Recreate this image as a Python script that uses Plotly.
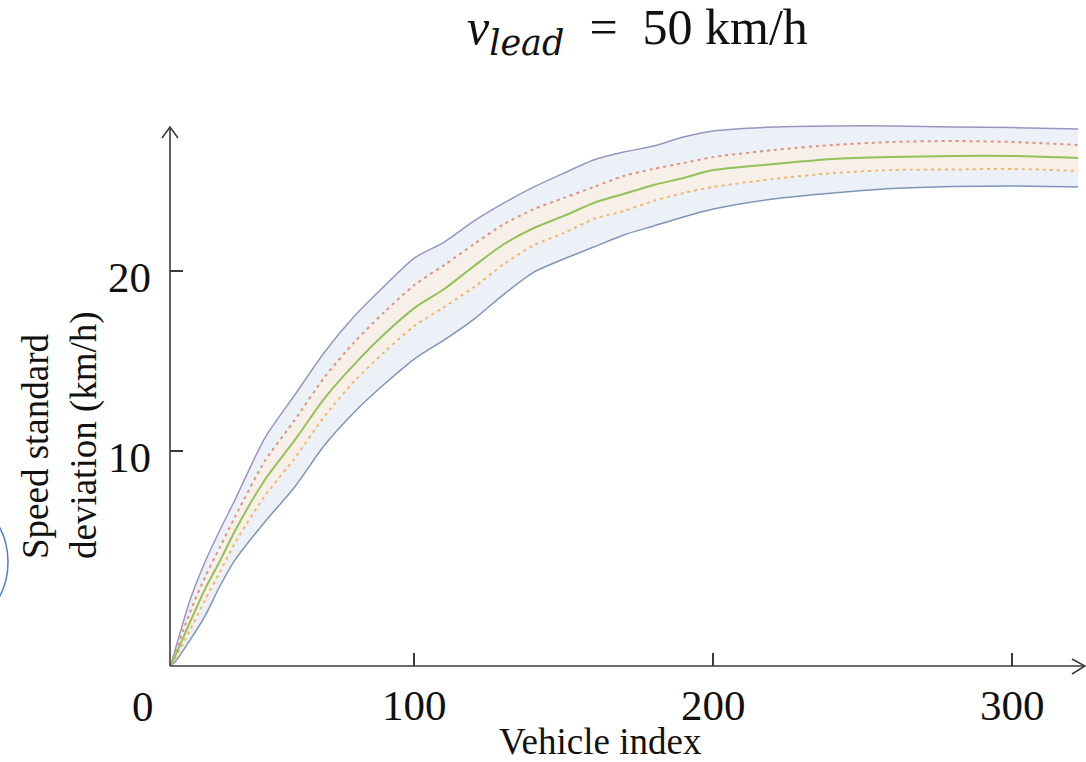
import plotly.graph_objects as go

# Vehicle index samples along the platoon
vehicle_idx = [18.6, 20, 25, 30, 35, 40, 50, 60, 70, 80, 90, 100, 110, 120, 130,
               140, 150, 160, 170, 180, 190, 200, 220, 240, 260, 280, 300, 322]

# Speed standard deviation (km/h): outer envelope, inner envelope and mean
outer_upper = [-1.89, -1.06, 1.72, 3.83, 5.61, 7.28, 10.72, 13.11, 15.5, 17.5, 19.17,
               20.72, 21.61, 22.78, 23.78, 24.67, 25.44, 26.17, 26.61, 26.94, 27.44,
               27.78, 28.0, 28.06, 28.06, 28.0, 27.97, 27.89]
inner_upper = [-1.89, -1.22, 1.06, 3.0, 4.67, 6.33, 9.44, 11.72, 14.11, 16.06, 17.72,
               19.22, 20.33, 21.5, 22.61, 23.44, 24.06, 24.67, 25.28, 25.67, 26.0,
               26.33, 26.72, 27.0, 27.17, 27.22, 27.17, 27.0]
mean_std = [-1.89, -1.39, 0.5, 2.33, 3.89, 5.56, 8.39, 10.6, 12.94, 14.83, 16.5,
            17.94, 19.0, 20.28, 21.5, 22.39, 23.06, 23.78, 24.28, 24.78, 25.17,
            25.61, 25.94, 26.22, 26.33, 26.39, 26.39, 26.28]
inner_lower = [-1.89, -1.53, 0.06, 1.72, 3.28, 4.89, 7.5, 9.6, 11.94, 13.89, 15.5,
               16.94, 18.0, 19.11, 20.39, 21.44, 22.11, 22.89, 23.33, 23.89, 24.33,
               24.67, 25.11, 25.44, 25.61, 25.64, 25.67, 25.56]
outer_lower = [-1.89, -1.72, -0.5, 0.83, 2.5, 3.94, 6.06, 8.0, 10.33, 12.17, 13.72,
               15.11, 16.17, 17.33, 18.72, 19.94, 20.67, 21.33, 22.0, 22.5, 23.0,
               23.44, 24.0, 24.33, 24.58, 24.69, 24.72, 24.67]

x_ticks = [100, 200, 300]
y_ticks = [10, 20]

W, H = 1086, 762
ML, MR, MT, MB = 170, 0, 115, 96
PW, PH = W - ML - MR, H - MT - MB

SERIF = "Liberation Serif"
AXIS_COLOR = "#3a3a3a"


def px(x):
    """Horizontal page pixel -> paper coordinate."""
    return (x - ML) / PW


def py(y):
    """Vertical page pixel -> paper coordinate."""
    return (H - MB - y) / PH


def band_line(y, color, width, dash=None, fill=None, fillcolor=None):
    return go.Scatter(x=vehicle_idx, y=y, mode="lines",
                      line=dict(color=color, width=width, dash=dash,
                                shape="spline", smoothing=0.7),
                      fill=fill, fillcolor=fillcolor, hoverinfo="skip")


fig = go.Figure()

# Outer envelope band
fig.add_trace(band_line(outer_lower, "#7f95b8", 1.5))
fig.add_trace(band_line(outer_upper, "#9a94c0", 1.5, fill="tonexty", fillcolor="#ecf1f8"))
# Inner envelope band (dotted edges)
fig.add_trace(band_line(inner_lower, "#f2b66a", 2, dash="3px,4px"))
fig.add_trace(band_line(inner_upper, "#e0907f", 2, dash="3px,4px",
                        fill="tonexty", fillcolor="#f7f0e8"))
# Mean
fig.add_trace(band_line(mean_std, "#93c15a", 2))

# Axis lines with open arrowheads
shapes = [
    dict(type="line", xref="paper", yref="paper", x0=px(170), y0=py(666),
         x1=px(1085), y1=py(666), line=dict(color=AXIS_COLOR, width=1.6)),
    dict(type="line", xref="paper", yref="paper", x0=px(170), y0=py(666),
         x1=px(170), y1=py(127), line=dict(color=AXIS_COLOR, width=1.6)),
    dict(type="path", xref="paper", yref="paper",
         path=f"M {px(1072)} {py(659)} L {px(1085)} {py(666)} L {px(1072)} {py(674)}",
         line=dict(color=AXIS_COLOR, width=1.6)),
    dict(type="path", xref="paper", yref="paper",
         path=f"M {px(162)} {py(138)} L {px(170)} {py(127)} L {px(178)} {py(138)}",
         line=dict(color=AXIS_COLOR, width=1.6)),
    # partial circle at the left edge
    dict(type="circle", xref="paper", yref="paper",
         x0=px(-140), x1=px(8), y0=py(636), y1=py(488),
         line=dict(color="#4f81c7", width=1.5)),
]

title_text = ("<i>v</i><sub><span style=\"font-family:'DejaVu Serif';font-size:35px\">"
              "<i>lead</i></span></sub>&nbsp;&nbsp;=&nbsp;&nbsp;50 km/h")

annotations = [
    dict(text=title_text, xref="paper", yref="paper",
         x=px(637), y=py(31), showarrow=False, xanchor="center", yanchor="middle",
         font=dict(family=SERIF, size=50, color="#111")),
    dict(text="0", xref="paper", yref="paper", x=px(143), y=py(706),
         showarrow=False, xanchor="center", yanchor="middle",
         font=dict(family=SERIF, size=43, color="#111")),
    dict(text="Vehicle index", xref="paper", yref="paper", x=px(600), y=py(741),
         showarrow=False, xanchor="center", yanchor="middle",
         font=dict(family=SERIF, size=37, color="#111")),
    dict(text="Speed standard<br>deviation (km/h)", xref="paper", yref="paper",
         x=px(60), y=py(435), showarrow=False, textangle=-90, align="left",
         xanchor="center", yanchor="middle",
         font=dict(family=SERIF, size=37, color="#111")),
]

fig.update_layout(
    width=W, height=H,
    margin=dict(l=ML, r=MR, t=MT, b=MB, pad=0),
    paper_bgcolor="white", plot_bgcolor="white",
    showlegend=False,
    shapes=shapes, annotations=annotations,
    xaxis=dict(range=[18.29, 324.65], tickvals=x_ticks, ticks="inside", ticklen=13,
               tickwidth=1.5, tickcolor=AXIS_COLOR, showgrid=False, zeroline=False,
               showline=False, ticklabelstandoff=10,
               tickfont=dict(family=SERIF, size=43, color="#111")),
    yaxis=dict(range=[-1.944, 28.667], tickvals=y_ticks, ticks="inside", ticklen=13,
               tickwidth=1.5, tickcolor=AXIS_COLOR, showgrid=False, zeroline=False,
               showline=False, ticklabelstandoff=18, ticklabelshift=6,
               tickfont=dict(family=SERIF, size=43, color="#111")),
)

fig.write_html("out.html")
